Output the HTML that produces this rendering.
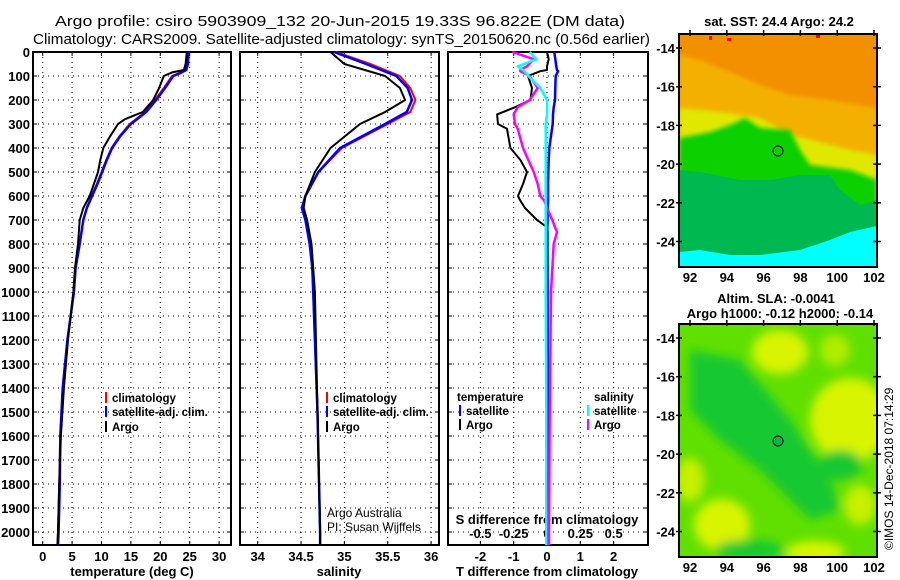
<!DOCTYPE html>
<html><head><meta charset="utf-8"><style>
body{margin:0;background:#fff;}
svg{display:block;font-family:"Liberation Sans",sans-serif;}
.t{font-size:13px;font-weight:bold;}
</style></head><body>
<svg id="fig" width="900" height="580" viewBox="0 0 900 580" xmlns="http://www.w3.org/2000/svg">
<defs>
<filter id="bl" x="-20%" y="-20%" width="140%" height="140%"><feGaussianBlur stdDeviation="5"/></filter>
<filter id="bl2"><feGaussianBlur stdDeviation="2"/></filter>
<clipPath id="c1"><rect x="679" y="34" width="198" height="233"/></clipPath>
<clipPath id="c2"><rect x="679" y="324" width="198" height="233"/></clipPath>
</defs>
<text x="55" y="26" font-size="15" textLength="570" lengthAdjust="spacingAndGlyphs">Argo profile: csiro 5903909_132 20-Jun-2015 19.33S 96.822E (DM data)</text>
<text x="33" y="44" font-size="15" textLength="617" lengthAdjust="spacingAndGlyphs">Climatology: CARS2009. Satellite-adjusted climatology: synTS_20150620.nc (0.56d earlier)</text>

<!-- Map 1 SST -->
<g clip-path="url(#c1)">
<rect x="679" y="34" width="198" height="233" fill="#f29000"/>
<path d="M679,55 L700,60 L730,72 L760,85 L790,95 L830,100 L877,108 L877,267 L679,267Z" fill="#f4b000" filter="url(#bl2)"/>
<path d="M679,108 L720,112 L760,118 L790,135 L820,142 L850,150 L877,155 L877,267 L679,267Z" fill="#e0e800" filter="url(#bl2)"/>
<path d="M679,138 L710,132 L730,125 L745,118 L760,128 L790,130 L800,150 L810,165 L850,170 L877,180 L877,267 L679,267Z" fill="#10d000" filter="url(#bl2)"/>
<path d="M679,170 L700,172 L740,180 L770,180 L800,175 L830,175 L840,190 L860,205 L877,200 L877,267 L679,267Z" fill="#00b850"/>
<path d="M679,252 L700,250 L730,255 L760,255 L800,250 L830,240 L850,232 L877,226 L877,267 L679,267Z" fill="#00ffff"/>
<rect x="709" y="36" width="3" height="4" fill="#ff0000"/><rect x="727" y="38" width="4" height="3" fill="#ff0000"/><rect x="816" y="35" width="4" height="3" fill="#ff0000"/>
<circle cx="778" cy="151" r="5" fill="none" stroke="#000" stroke-width="1"/>
</g>
<rect x="679" y="34" width="198" height="233" fill="none" stroke="#000" stroke-width="2"/>
<text class="t" x="779" y="26" text-anchor="middle">sat. SST: 24.4 Argo: 24.2</text>

<!-- Map 2 SLA -->
<g clip-path="url(#c2)">
<rect x="679" y="324" width="198" height="233" fill="#60e000"/>
<g filter="url(#bl)">
<ellipse cx="780" cy="352" rx="28" ry="22" fill="#d8f400"/>
<ellipse cx="850" cy="420" rx="40" ry="42" fill="#d8f400"/>
<ellipse cx="722" cy="525" rx="28" ry="26" fill="#d8f400"/>
<ellipse cx="815" cy="553" rx="30" ry="12" fill="#d8f400"/>
<ellipse cx="690" cy="480" rx="14" ry="22" fill="#c8f000"/>
<ellipse cx="860" cy="505" rx="16" ry="20" fill="#c8f000"/>
<ellipse cx="835" cy="350" rx="15" ry="16" fill="#b0ec00"/>
<ellipse cx="730" cy="392" rx="14" ry="12" fill="#b0ec00"/>
<path d="M690,350 L740,360 L790,420 L830,480 L840,510 L810,520 L790,500 L760,470 L720,440 L690,410Z" fill="#14c830"/>
<ellipse cx="840" cy="465" rx="22" ry="15" fill="#14c830"/>
<ellipse cx="750" cy="550" rx="35" ry="10" fill="#14c830"/>
</g>
<circle cx="778" cy="441" r="5" fill="#00b850" stroke="#000" stroke-width="1"/>
</g>
<rect x="679" y="324" width="198" height="233" fill="none" stroke="#000" stroke-width="2"/>
<text class="t" x="776" y="303" text-anchor="middle">Altim. SLA: -0.0041</text>
<text class="t" x="780" y="318" text-anchor="middle">Argo h1000: -0.12 h2000: -0.14</text>
<text font-size="12" transform="translate(893,550) rotate(-90)">©IMOS 14-Dec-2018 07:14:29</text>
<g id="maxes"></g>
<g id="plots"></g>
</svg>
<script>
const NS="http://www.w3.org/2000/svg";
const svg=document.getElementById('fig');
const plots=document.getElementById('plots');
function mk(tag,attrs,parent,txt){const e=document.createElementNS(NS,tag);for(const k in attrs)e.setAttribute(k,attrs[k]);if(txt!==undefined)e.textContent=txt;(parent||plots).appendChild(e);return e;}

// ---- data ----
const depthTicks=[0,100,200,300,400,500,600,700,800,900,1000,1100,1200,1300,1400,1500,1600,1700,1800,1900,2000];
const tempTicks=[0,5,10,15,20,25,30];
const salTicks=[34,34.5,35,35.5,36];
const tdiffTicks=[-2,-1,0,1,2];
const sdiffTicks=[-0.5,-0.25,0,0.25,0.5];
const depthArgo=[0,50,75,85,100,150,200,250,280,300,350,400,450,500,550,600,650,700,800,900,1000,1200,1400,1600,1800,2000,2055];
const tempArgo=[24.5,24.3,24.0,22.0,20.6,19.8,18.8,17.0,14.0,12.8,11.5,10.3,9.8,9.4,8.7,8.0,6.9,6.3,6.0,5.5,5.2,4.3,3.6,3.1,2.8,2.6,2.5];
const depthClim=[0,50,75,90,100,150,200,250,300,350,400,450,500,550,600,650,700,800,900,1000,1200,1400,1600,1800,2000,2055];
const tempClim=[24.7,24.6,24.3,23.0,22.0,20.6,19.1,17.4,14.8,13.1,11.7,10.8,10.0,9.2,8.3,7.5,6.9,6.3,5.6,5.3,4.2,3.4,3.0,2.8,2.6,2.5];
const tempSat=[24.8,24.7,24.4,23.2,22.2,20.8,19.3,17.6,15.0,13.2,11.8,10.9,10.1,9.3,8.4,7.5,6.9,6.3,5.6,5.3,4.2,3.4,3.0,2.9,2.7,2.6];
const depthSal=[0,50,100,150,200,250,300,400,500,600,650,700,800,900,1000,1500,2000,2055];
const salArgo=[34.84,35.0,35.47,35.64,35.70,35.47,35.18,34.84,34.66,34.55,34.53,34.57,34.62,34.64,34.66,34.69,34.72,34.72];
const salClim=[34.9,35.3,35.64,35.76,35.82,35.76,35.5,34.97,34.7,34.55,34.51,34.55,34.6,34.63,34.64,34.69,34.72,34.72];
const salSat=[34.88,35.25,35.6,35.73,35.78,35.72,35.47,34.95,34.7,34.55,34.51,34.55,34.6,34.63,34.64,34.69,34.72,34.72];
const depthDiff=[0,30,60,75,80,100,150,200,230,260,300,320,400,450,500,550,600,620,650,700,730,750,800,1000,1500,2000,2055];
const tdiffArgo=[0,0.05,0,0,-0.2,-0.57,-0.45,-0.5,-0.96,-1.5,-1.47,-1.2,-1.1,-0.8,-0.6,-0.72,-0.87,-0.8,-0.66,-0.3,0,0.02,0.02,0.02,0.01,0.01,0.01];
const tdiffSat=[0.22,0.25,0.28,0.3,0.33,0.26,0.25,0.24,0.2,0.18,0.17,0.15,0.07,0.05,0.04,0.03,0.03,0.03,0.02,0.02,0.01,0.01,0.01,0.02,0.02,0.02,0.02];
const sdiffArgo=[-0.26,-0.1,-0.15,-0.2,-0.2,-0.13,-0.07,-0.13,-0.22,-0.25,-0.24,-0.22,-0.18,-0.14,-0.1,-0.07,-0.05,-0.02,0,0.04,0.06,0.075,0.05,0.03,0.02,0.015,0.015];
const sdiffSat=[-0.13,-0.08,-0.22,-0.18,-0.17,-0.14,-0.05,0,0,0,-0.01,-0.01,-0.01,-0.01,-0.01,-0.01,-0.01,-0.01,-0.01,-0.01,-0.01,-0.01,-0.01,-0.01,-0.005,-0.005,-0.005];
const latTicks=[-14,-16,-18,-20,-22,-24];
const lonTicks=[92,94,96,98,100,102];

// ---- axes ----
const top0=52, bot=545;
const yD=d=>top0+d*0.24;
const xT=v=>42.7+v*5.88;
const xS=v=>257.7+(v-34)*86.7;
const xTd=v=>547+v*33.3;
const xSd=v=>547+v*133.3;
const panels=[[33,231],[240,439],[448,648]];

function grid(p,xf,ticks,name){
  const [x0,x1]=p;
  depthTicks.forEach(d=>{
    const l=mk('line',{x1:x0,x2:x1,y1:yD(d),y2:yD(d),stroke:'#000','stroke-width':1,'stroke-dasharray':'1,4'});
    
    
    mk('line',{x1:x0,x2:x0+4,y1:yD(d),y2:yD(d),stroke:'#000'});
    mk('line',{x1:x1-4,x2:x1,y1:yD(d),y2:yD(d),stroke:'#000'});
  });
  ticks.forEach(v=>{
    const l=mk('line',{x1:xf(v),x2:xf(v),y1:top0,y2:bot,stroke:'#000','stroke-width':1,'stroke-dasharray':'1,4'});
    
    
    mk('line',{x1:xf(v),x2:xf(v),y1:bot-4,y2:bot,stroke:'#000'});
    mk('line',{x1:xf(v),x2:xf(v),y1:top0,y2:top0+4,stroke:'#000'});
  });
  const f=mk('rect',{x:x0,y:top0,width:x1-x0,height:bot-top0,fill:'none',stroke:'#000','stroke-width':2});
  
  
}
grid(panels[0],xT,tempTicks,'temperature');
grid(panels[1],xS,salTicks,'salinity');
grid(panels[2],xTd,tdiffTicks,'difference');

depthTicks.forEach(d=>{
  const t=mk('text',{x:30,y:yD(d)+5,'text-anchor':'end',class:'t'},plots,String(d));
  
  
});
tempTicks.forEach(v=>{
  const t=mk('text',{x:xT(v),y:561,'text-anchor':'middle',class:'t'},plots,String(v));
  
  
});
salTicks.forEach(v=>{
  const t=mk('text',{x:xS(v),y:561,'text-anchor':'middle',class:'t'},plots,String(v));
  
  
});
tdiffTicks.forEach(v=>{
  const t=mk('text',{x:xTd(v),y:561,'text-anchor':'middle',class:'t'},plots,String(v));
  
  
});
sdiffTicks.forEach(v=>{
  const t=mk('text',{x:xSd(v),y:538,'text-anchor':'middle',class:'t'},plots,String(v));
  
  
});
let t;
t=mk('text',{x:132,y:576,'text-anchor':'middle',class:'t'},plots,'temperature (deg C)');

t=mk('text',{x:339,y:576,'text-anchor':'middle',class:'t'},plots,'salinity');

t=mk('text',{x:547,y:576,'text-anchor':'middle',class:'t'},plots,'T difference from climatology');

t=mk('text',{x:547,y:524,'text-anchor':'middle',class:'t'},plots,'S difference from climatology');

t=mk('text',{x:327,y:517,'font-size':12},plots,'Argo Australia');

t=mk('text',{x:327,y:531,'font-size':12},plots,'PI: Susan Wijffels');


// ---- series ----
function line(ds,vs,xf,color,name,w){
  const pts=ds.map((d,i)=>xf(vs[i]).toFixed(1)+','+yD(d).toFixed(1)).join(' ');
  const p=mk('polyline',{points:pts,fill:'none',stroke:color,'stroke-width':w||2,'stroke-linejoin':'round'});
  
  
}
line(depthClim,tempClim,xT,'#ff0000','temperature-climatology-line');
line(depthClim,tempSat,xT,'#0000ff','temperature-satellite-line',2.5);
line(depthArgo,tempArgo,xT,'#000000','temperature-argo-line');
line(depthSal,salClim,xS,'#ff0000','salinity-climatology-line');
line(depthSal,salSat,xS,'#0000ff','salinity-satellite-line',2.5);
line(depthSal,salArgo,xS,'#000000','salinity-argo-line');
line(depthDiff,tdiffArgo,xTd,'#000000','tdiff-argo-line');
line(depthDiff,tdiffSat,xTd,'#0000ff','tdiff-satellite-line',2.5);
line(depthDiff,sdiffArgo,xSd,'#ff00ff','sdiff-argo-line',2.5);
line(depthDiff,sdiffSat,xSd,'#00ffff','sdiff-satellite-line',2.5);

// ---- legends ----
function leg(x,y,color,label,name){
  const m=mk('line',{x1:x,x2:x,y1:y-10,y2:y+1,stroke:color,'stroke-width':2});
  
  
  const tt=mk('text',{x:x+6,y:y,'font-weight':'bold','font-size':11.5},plots,label);
  
  
}
leg(106,402,'#ff0000','climatology','legend-climatology-temp');
leg(106,416,'#0000ff','satellite-adj. clim.','legend-satellite-temp');
leg(106,431,'#000','Argo','legend-argo-temp');
leg(327,402,'#ff0000','climatology','legend-climatology-sal');
leg(327,416,'#0000ff','satellite-adj. clim.','legend-satellite-sal');
leg(327,431,'#000','Argo','legend-argo-sal');
t=mk('text',{x:457,y:401,'font-weight':'bold','font-size':11.5},plots,'temperature');

t=mk('text',{x:594,y:401,'font-weight':'bold','font-size':11.5},plots,'salinity');

leg(460,415,'#0000ff','satellite','legend-tdiff-satellite');
leg(460,429,'#000','Argo','legend-tdiff-argo');
leg(588,415,'#00ffff','satellite','legend-sdiff-satellite');
leg(588,429,'#ff00ff','Argo','legend-sdiff-argo');

// ---- map axes ----
const maxes=document.getElementById('maxes');
function mapAxes(y0,latY0,lonY,name){
  latTicks.forEach((v,i)=>{
    const y=latY0+(-14-v)*19.35;
    const l=mk('text',{x:675,y:y+5,'text-anchor':'end',class:'t'},maxes,String(v));
    
    
    mk('line',{x1:873,x2:881,y1:y,y2:y,stroke:'#000','stroke-width':1.5},maxes);
    mk('line',{x1:676,x2:682,y1:y,y2:y,stroke:'#000','stroke-width':1.5},maxes);
  });
  lonTicks.forEach(v=>{
    const x=690+(v-92)*18.4;
    const l=mk('text',{x:x,y:lonY,'text-anchor':'middle',class:'t'},maxes,String(v));
    
    
    mk('line',{x1:x,x2:x,y1:y0-4,y2:y0+2,stroke:'#000','stroke-width':1.5},maxes);
  });
}
mapAxes(34,48,282,'sst-map');
mapAxes(324,338,572,'sla-map');
</script>
</body></html>
